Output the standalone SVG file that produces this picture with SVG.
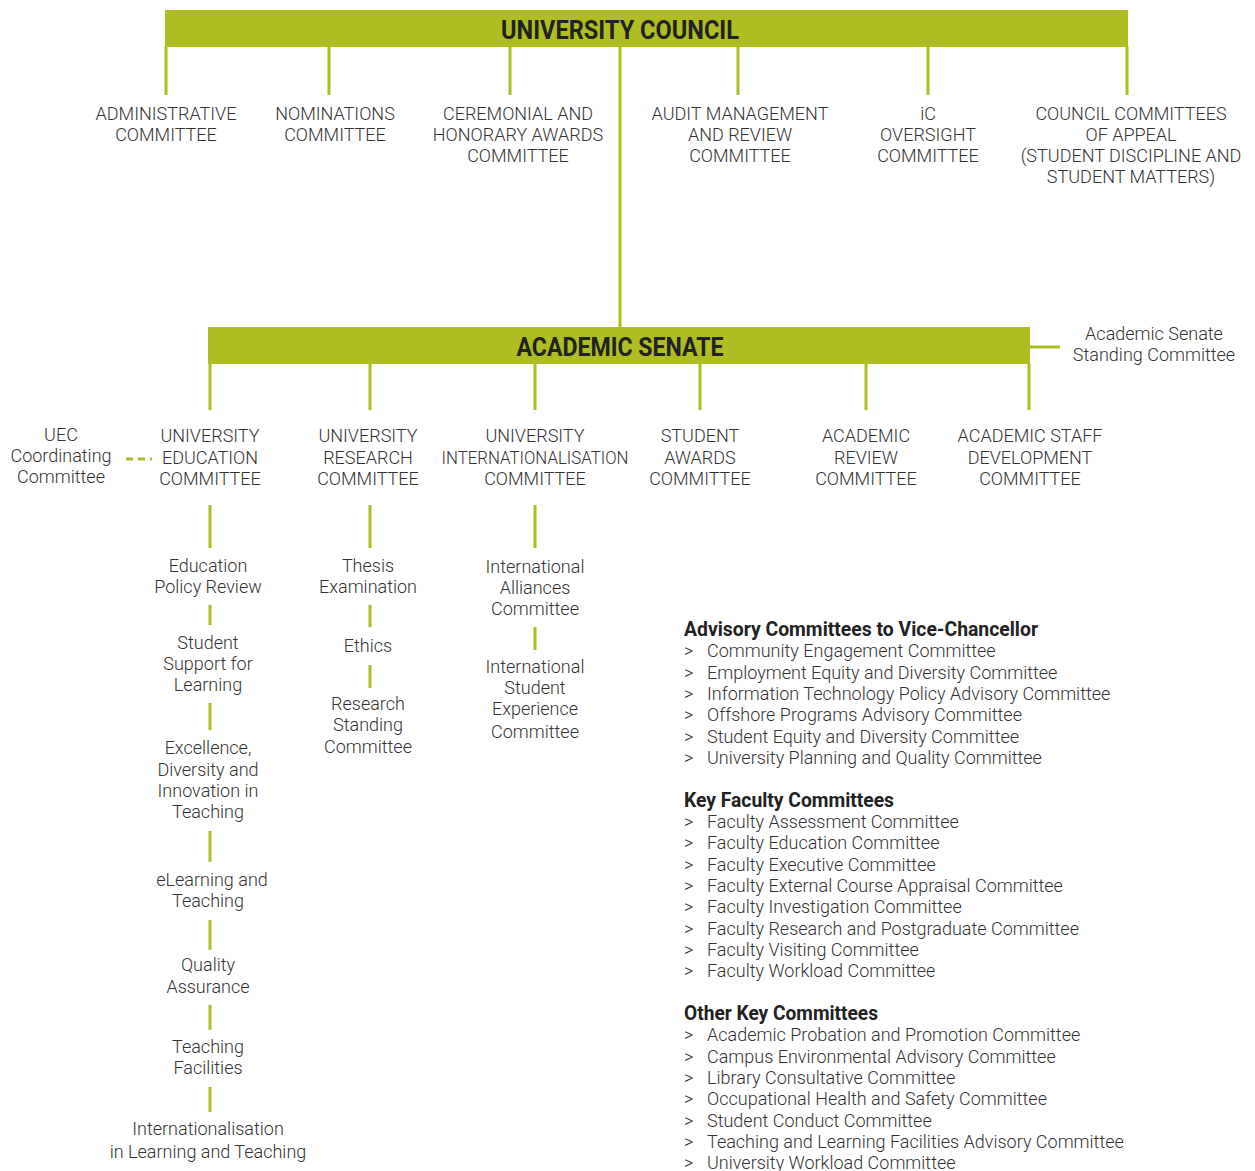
<svg xmlns="http://www.w3.org/2000/svg" width="1255" height="1171" viewBox="0 0 1255 1171">
<style>
.bar{fill:#AEBD22}
.ln{stroke:#AEBD22;stroke-width:3;fill:none}
.dash{stroke:#AEBD22;stroke-width:3;fill:none;stroke-dasharray:7 5}
text{font-family:Roboto,"Liberation Sans",sans-serif;font-weight:300;font-size:18px;fill:#333}
.c{text-anchor:middle}
.h{font-weight:700;font-size:26px;fill:#222}
.hd{font-weight:700;font-size:20px;fill:#222}
</style>
<rect width="1255" height="1171" fill="#fff"/>
<g id="connectors">
<line class="ln" x1="166" y1="46" x2="166" y2="95"/>
<line class="ln" x1="329" y1="46" x2="329" y2="95"/>
<line class="ln" x1="510" y1="46" x2="510" y2="95"/>
<line class="ln" x1="738" y1="46" x2="738" y2="95"/>
<line class="ln" x1="928" y1="46" x2="928" y2="95"/>
<line class="ln" x1="1127" y1="46" x2="1127" y2="95"/>
<line class="ln" x1="620" y1="46" x2="620" y2="328"/>
<line class="ln" x1="1029" y1="347" x2="1060" y2="347"/>
<line class="ln" x1="210" y1="363" x2="210" y2="410"/>
<line class="ln" x1="370" y1="363" x2="370" y2="410"/>
<line class="ln" x1="535" y1="363" x2="535" y2="410"/>
<line class="ln" x1="700" y1="363" x2="700" y2="410"/>
<line class="ln" x1="866" y1="363" x2="866" y2="410"/>
<line class="ln" x1="1029" y1="363" x2="1029" y2="410"/>
<line class="dash" x1="126" y1="459" x2="152" y2="459"/>
<line class="ln" x1="210" y1="505" x2="210" y2="548"/>
<line class="ln" x1="210" y1="605" x2="210" y2="625"/>
<line class="ln" x1="210" y1="703" x2="210" y2="730"/>
<line class="ln" x1="210" y1="831" x2="210" y2="862"/>
<line class="ln" x1="210" y1="920" x2="210" y2="950"/>
<line class="ln" x1="210" y1="1005" x2="210" y2="1030"/>
<line class="ln" x1="210" y1="1087" x2="210" y2="1112"/>
<line class="ln" x1="370" y1="505" x2="370" y2="548"/>
<line class="ln" x1="370" y1="605" x2="370" y2="627"/>
<line class="ln" x1="370" y1="665" x2="370" y2="688"/>
<line class="ln" x1="535" y1="505" x2="535" y2="548"/>
<line class="ln" x1="535" y1="627" x2="535" y2="650"/>
</g>
<g id="university-council">
<rect class="bar" x="165" y="10" width="963" height="37"/>
<text class="c h" x="620" y="39" textLength="238" lengthAdjust="spacingAndGlyphs">UNIVERSITY COUNCIL</text>
</g>
<g id="administrative"><text class="c" x="166" y="120">ADMINISTRATIVE</text><text class="c" x="166" y="141">COMMITTEE</text></g>
<g id="nominations"><text class="c" x="335" y="120">NOMINATIONS</text><text class="c" x="335" y="141">COMMITTEE</text></g>
<g id="ceremonial"><text class="c" x="518" y="120">CEREMONIAL AND</text><text class="c" x="518" y="141">HONORARY AWARDS</text><text class="c" x="518" y="162">COMMITTEE</text></g>
<g id="audit"><text class="c" x="740" y="120">AUDIT MANAGEMENT</text><text class="c" x="740" y="141">AND REVIEW</text><text class="c" x="740" y="162">COMMITTEE</text></g>
<g id="ic-oversight"><text class="c" x="928" y="120">iC</text><text class="c" x="928" y="141">OVERSIGHT</text><text class="c" x="928" y="162">COMMITTEE</text></g>
<g id="council-appeal"><text class="c" x="1131" y="120">COUNCIL COMMITTEES</text><text class="c" x="1131" y="141">OF APPEAL</text><text class="c" x="1131" y="162">(STUDENT DISCIPLINE AND</text><text class="c" x="1131" y="183">STUDENT MATTERS)</text></g>
<g id="academic-senate">
<rect class="bar" x="208" y="327" width="822" height="37"/>
<text class="c h" x="620" y="356" textLength="207" lengthAdjust="spacingAndGlyphs">ACADEMIC SENATE</text>
</g>
<g id="senate-standing"><text class="c" x="1154" y="340">Academic Senate</text><text class="c" x="1154" y="361">Standing Committee</text></g>
<g id="uec"><text class="c" x="61" y="441">UEC</text><text class="c" x="61" y="462">Coordinating</text><text class="c" x="61" y="483">Committee</text></g>
<g id="uni-education"><text class="c" x="210" y="442">UNIVERSITY</text><text class="c" x="210" y="464">EDUCATION</text><text class="c" x="210" y="485">COMMITTEE</text></g>
<g id="uni-research"><text class="c" x="368" y="442">UNIVERSITY</text><text class="c" x="368" y="464">RESEARCH</text><text class="c" x="368" y="485">COMMITTEE</text></g>
<g id="uni-intl"><text class="c" x="535" y="442">UNIVERSITY</text><text class="c" x="535" y="464" textLength="187" lengthAdjust="spacingAndGlyphs">INTERNATIONALISATION</text><text class="c" x="535" y="485">COMMITTEE</text></g>
<g id="student-awards"><text class="c" x="700" y="442">STUDENT</text><text class="c" x="700" y="464">AWARDS</text><text class="c" x="700" y="485">COMMITTEE</text></g>
<g id="academic-review"><text class="c" x="866" y="442">ACADEMIC</text><text class="c" x="866" y="464">REVIEW</text><text class="c" x="866" y="485">COMMITTEE</text></g>
<g id="staff-dev"><text class="c" x="1030" y="442">ACADEMIC STAFF</text><text class="c" x="1030" y="464">DEVELOPMENT</text><text class="c" x="1030" y="485">COMMITTEE</text></g>
<g id="edu-policy"><text class="c" x="208" y="572">Education</text><text class="c" x="208" y="593">Policy Review</text></g>
<g id="student-support"><text class="c" x="208" y="649">Student</text><text class="c" x="208" y="670">Support for</text><text class="c" x="208" y="691">Learning</text></g>
<g id="excellence"><text class="c" x="208" y="754">Excellence,</text><text class="c" x="208" y="776">Diversity and</text><text class="c" x="208" y="797">Innovation in</text><text class="c" x="208" y="818">Teaching</text></g>
<g id="elearning"><text class="c" x="212" y="886">eLearning and</text><text class="c" x="208" y="907">Teaching</text></g>
<g id="quality"><text class="c" x="208" y="971">Quality</text><text class="c" x="208" y="993">Assurance</text></g>
<g id="teaching-facilities"><text class="c" x="208" y="1053">Teaching</text><text class="c" x="208" y="1074">Facilities</text></g>
<g id="intl-learning"><text class="c" x="208" y="1135">Internationalisation</text><text class="c" x="208" y="1158">in Learning and Teaching</text></g>
<g id="thesis"><text class="c" x="368" y="572">Thesis</text><text class="c" x="368" y="593">Examination</text></g>
<g id="ethics"><text class="c" x="368" y="652">Ethics</text></g>
<g id="research-standing"><text class="c" x="368" y="710">Research</text><text class="c" x="368" y="731">Standing</text><text class="c" x="368" y="753">Committee</text></g>
<g id="intl-alliances"><text class="c" x="535" y="573">International</text><text class="c" x="535" y="594">Alliances</text><text class="c" x="535" y="615">Committee</text></g>
<g id="intl-student"><text class="c" x="535" y="673">International</text><text class="c" x="535" y="694">Student</text><text class="c" x="535" y="715">Experience</text><text class="c" x="535" y="738">Committee</text></g>
<g id="advisory">
<text class="hd" x="684" y="636" textLength="354" lengthAdjust="spacingAndGlyphs">Advisory Committees to Vice-Chancellor</text>
<text x="684" y="657">&gt;</text><text x="707" y="657">Community Engagement Committee</text>
<text x="684" y="679">&gt;</text><text x="707" y="679">Employment Equity and Diversity Committee</text>
<text x="684" y="700">&gt;</text><text x="707" y="700">Information Technology Policy Advisory Committee</text>
<text x="684" y="721">&gt;</text><text x="707" y="721">Offshore Programs Advisory Committee</text>
<text x="684" y="743">&gt;</text><text x="707" y="743">Student Equity and Diversity Committee</text>
<text x="684" y="764">&gt;</text><text x="707" y="764">University Planning and Quality Committee</text>
</g>
<g id="key-faculty">
<text class="hd" x="684" y="807" textLength="210" lengthAdjust="spacingAndGlyphs">Key Faculty Committees</text>
<text x="684" y="828">&gt;</text><text x="707" y="828">Faculty Assessment Committee</text>
<text x="684" y="849">&gt;</text><text x="707" y="849">Faculty Education Committee</text>
<text x="684" y="871">&gt;</text><text x="707" y="871">Faculty Executive Committee</text>
<text x="684" y="892">&gt;</text><text x="707" y="892">Faculty External Course Appraisal Committee</text>
<text x="684" y="913">&gt;</text><text x="707" y="913">Faculty Investigation Committee</text>
<text x="684" y="935">&gt;</text><text x="707" y="935">Faculty Research and Postgraduate Committee</text>
<text x="684" y="956">&gt;</text><text x="707" y="956">Faculty Visiting Committee</text>
<text x="684" y="977">&gt;</text><text x="707" y="977">Faculty Workload Committee</text>
</g>
<g id="other-key">
<text class="hd" x="684" y="1020" textLength="194" lengthAdjust="spacingAndGlyphs">Other Key Committees</text>
<text x="684" y="1041">&gt;</text><text x="707" y="1041">Academic Probation and Promotion Committee</text>
<text x="684" y="1063">&gt;</text><text x="707" y="1063">Campus Environmental Advisory Committee</text>
<text x="684" y="1084">&gt;</text><text x="707" y="1084">Library Consultative Committee</text>
<text x="684" y="1105">&gt;</text><text x="707" y="1105">Occupational Health and Safety Committee</text>
<text x="684" y="1127">&gt;</text><text x="707" y="1127">Student Conduct Committee</text>
<text x="684" y="1148">&gt;</text><text x="707" y="1148">Teaching and Learning Facilities Advisory Committee</text>
<text x="684" y="1169">&gt;</text><text x="707" y="1169">University Workload Committee</text>
</g>
</svg>
